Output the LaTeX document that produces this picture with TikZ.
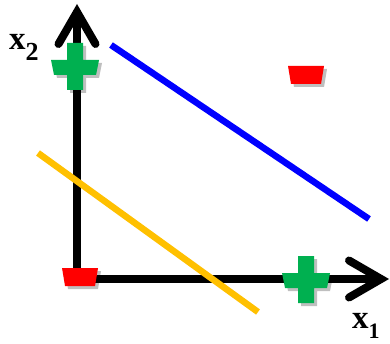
\documentclass[tikz,border=0pt]{standalone}
\usepackage{fontspec}
\setmainfont{Liberation Serif}
\usetikzlibrary{arrows.meta,shadows}
\definecolor{plusgreen}{HTML}{00B050}
\definecolor{minusred}{HTML}{FF0000}
\definecolor{lineblue}{HTML}{0000FF}
\definecolor{lineorange}{HTML}{FFC000}
\tikzset{
  axisline/.style={line width=8pt, black, -{Straight Barb[length=32pt, width=37pt, line cap=round]}},
  sepline/.style={line width=6.5pt},
  marker/.style={drop shadow={shadow xshift=3pt, shadow yshift=-3pt, fill=black, opacity=0.25}},
  axislabel/.style={inner sep=0pt, font=\fontsize{33}{33}\selectfont\bfseries},
  pics/plusmark/.style={code={
    \fill[plusgreen, marker] (-8,-24) -- (8,-24) -- (8,-7) -- (24,-7) -- (21,8) -- (8,8) -- (8,23)
      -- (-8,23) -- (-8,8) -- (-21,8) -- (-24,-7) -- (-8,-7) -- cycle;}},
  pics/minusmark/.style={code={
    \fill[minusred, marker] (-18,-9) -- (18,-9) -- (15,9) -- (-15,9) -- cycle;}}
}
\begin{document}
\begin{tikzpicture}[x=1pt, y=-1pt]
\useasboundingbox (0,0) rectangle (390,344);
\fill[white] (0,0) rectangle (390,344);
% axes
\coordinate (O) at (77,279);
\coordinate (ybot) at (77,284);
\coordinate (ytip) at (77,4);
\coordinate (xleft) at (73,279);
\coordinate (xtip) at (389,279);
\draw[axisline] (ybot) -- (ytip);
\draw[axisline] (xleft) -- (xtip);
% separating lines
\coordinate (b1) at (111,45);
\coordinate (b2) at (369,219);
\coordinate (o1) at (38,153);
\coordinate (o2) at (258,312);
\draw[sepline, lineblue] (b1) -- (b2);
\draw[sepline, lineorange] (o1) -- (o2);
% markers
\pic at (75,67) {plusmark};
\pic at (306,280) {plusmark};
\pic at (80,277) {minusmark};
\pic at (306,75) {minusmark};
% labels
\node[axislabel, anchor=north west] (lx2) at (9,34) {x\raisebox{-0.35em}{\fontsize{26}{26}\selectfont 2}};
\node[axislabel, anchor=north west] (lx1) at (352,313) {x\raisebox{-0.3em}{\fontsize{22}{22}\selectfont 1}};
\end{tikzpicture}
\end{document}
